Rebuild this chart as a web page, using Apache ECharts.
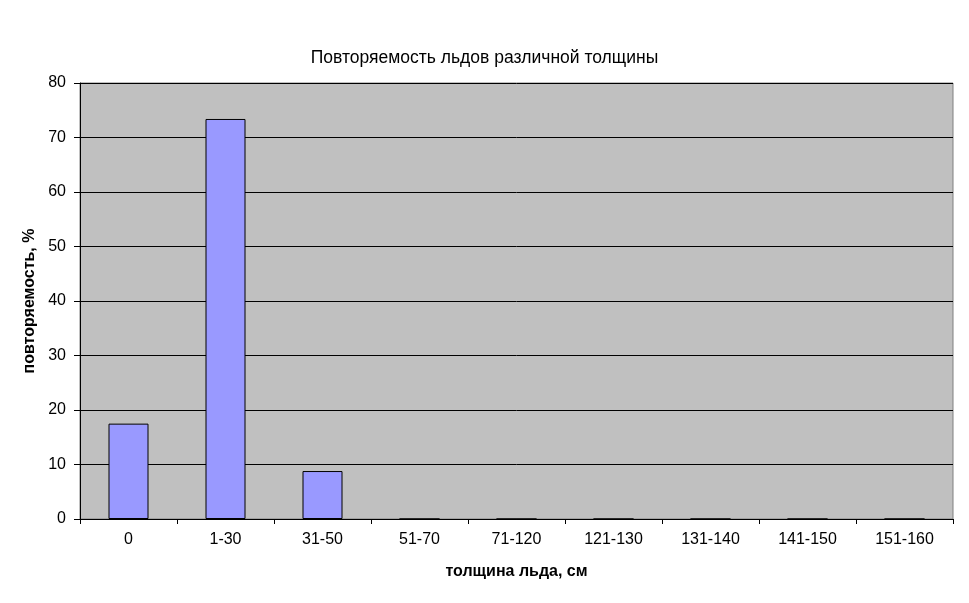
<!DOCTYPE html>
<html><head><meta charset="utf-8">
<script src="https://cdn.jsdelivr.net/npm/echarts@6/dist/echarts.min.js"></script>
<style>html,body{margin:0;padding:0;background:#fff}#c{width:969px;height:603px}</style>
</head><body><div id="c"></div>
<script>
const categories = ['0','1-30','31-50','51-70','71-120','121-130','131-140','141-150','151-160'];
const values = [17.5, 73.4, 8.8, 0, 0, 0, 0, 0, 0];
const yTicks = [0, 10, 20, 30, 40, 50, 60, 70, 80];
const titleText = 'Повторяемость льдов различной толщины';
const xName = 'толщина льда, см';
const yName = 'повторяемость, %';

const font = 'Liberation Sans, Arial, sans-serif';
const chart = echarts.init(document.getElementById('c'));
chart.setOption({
  animation: false,
  title: { text: titleText, left: 'center', top: 44,
    textStyle: { fontFamily: font, fontSize: 17.5, fontWeight: 'normal', color: '#000' } },
  grid: { left: 80, top: 83, width: 873, height: 436, show: true,
    backgroundColor: '#C0C0C0', borderColor: '#808080', borderWidth: 1 },
  xAxis: {
    type: 'category', data: categories,
    name: xName, nameLocation: 'middle', nameGap: 45,
    nameTextStyle: { fontFamily: font, fontSize: 16, fontWeight: 'bold', color: '#000' },
    axisLine: { lineStyle: { color: '#000', width: 1 } },
    axisTick: { show: true, length: 5, lineStyle: { color: '#000' } },
    axisLabel: { fontFamily: font, fontSize: 16, color: '#000', margin: 13 }
  },
  yAxis: {
    type: 'value', min: yTicks[0], max: yTicks[yTicks.length-1], interval: 10,
    name: yName, nameLocation: 'middle', nameGap: 39, nameRotate: 90,
    nameTextStyle: { fontFamily: font, fontSize: 16, fontWeight: 'bold', color: '#000' },
    axisLine: { show: true, lineStyle: { color: '#000', width: 1 } },
    axisTick: { show: true, length: 6, lineStyle: { color: '#000' } },
    axisLabel: { fontFamily: font, fontSize: 16, color: '#000', margin: 14 },
    splitLine: { show: true, lineStyle: { color: '#000', width: 1 } }
  },
  series: [{
    type: 'bar', data: values, barWidth: 40,
    itemStyle: { color: '#9999FF', borderColor: '#000', borderWidth: 1 }
  }]
});
</script></body></html>
